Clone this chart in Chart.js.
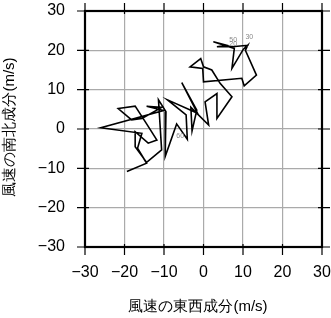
<!DOCTYPE html>
<html><head><meta charset="utf-8">
<script src="https://cdn.jsdelivr.net/npm/chart.js@4/dist/chart.umd.min.js"></script>
<style>html,body{margin:0;padding:0;background:#fff}#wrap{width:331px;height:318px}</style>
</head><body><div id="wrap"><canvas id="c" width="331" height="318"></canvas></div>
<script>
const tickValues = [-30, -20, -10, 0, 10, 20, 30];
const uComp = [-19.4,-14.4,-16.7,-15.6,-26.0,-10.1,-14.4,-10.6,-15.6,-18.2,-21.6,-17.3,-14.4,-11.8,-14.0,-17.3,-17.3,-14.4,-10.6,-11.4,-9.5,-9.7,-6.8,-4.1,-4.4,-9.1,-1.5,-5.5,-1.7,-2.9,-3.2,1.3,0.4,3.4,3.4,7.2,4.2,2.1,0.0,-0.7,-3.4,-0.2,0.0,9.7,10.3,13.4,10.6,11.2,10.1,7.2,7.8,2.5,5.9,3.4,7.2,11.4];
const vComp = [-10.8,-8.7,-4.9,-1.1,0.3,4.7,5.8,5.5,2.7,2.3,5.2,5.8,1.3,-2.8,-3.6,-0.7,-4.5,-8.5,-5.3,7.4,4.4,-7.0,1.3,-2.6,3.6,7.4,4.0,11.8,4.8,-0.5,5.5,1.0,6.9,9.0,2.7,8.2,11.6,15.0,15.8,17.9,15.8,15.4,12.0,12.9,11.0,13.7,20.0,21.3,20.3,15.4,20.5,22.2,21.3,20.9,20.9,21.3];
const heightLabels = ["30", "50", "20", "60"];
const labelX = [11.6, 7.5, 7.5, -5.9];
const labelY = [23.3, 22.6, 21.5, -1.8];
const xTitle = "風速の東西成分(m/s)";
const yTitle = "風速の南北成分(m/s)";

const pts = uComp.map((u, i) => ({x: u, y: vComp[i]}));
const minus = v => String(v).replace('-', '\u2212');
const FONT = '"Liberation Sans", Arial, sans-serif';

const framePlugin = {
  id: 'frame',
  afterDraw(chart) {
    const {ctx, chartArea: a, scales} = chart;
    ctx.save();
    ctx.strokeStyle = '#000';
    ctx.lineWidth = 1.2;
    ctx.beginPath();
    tickValues.forEach(v => {
      const px = scales.x.getPixelForValue(v);
      const py = scales.y.getPixelForValue(v);
      ctx.moveTo(px, a.bottom - 3); ctx.lineTo(px, a.bottom + 8);
      ctx.moveTo(px, a.top + 3); ctx.lineTo(px, a.top - 8);
      ctx.moveTo(a.left - 8, py); ctx.lineTo(a.left + 4, py);
      ctx.moveTo(a.right + 8, py); ctx.lineTo(a.right - 4, py);
    });
    ctx.stroke();
    ctx.lineWidth = 2.2;
    ctx.strokeRect(a.left, a.top, a.right - a.left, a.bottom - a.top);
    ctx.fillStyle = '#888';
    ctx.font = '7px ' + FONT;
    ctx.textAlign = 'center';
    ctx.textBaseline = 'middle';
    heightLabels.forEach((t, i) => {
      ctx.fillText(t, scales.x.getPixelForValue(labelX[i]), scales.y.getPixelForValue(labelY[i]));
    });
    ctx.fillStyle = '#000';
    ctx.font = '15px ' + FONT;
    ctx.fillText(xTitle, 198, 307);
    ctx.translate(10, 127);
    ctx.rotate(-Math.PI / 2);
    ctx.fillText(yTitle, 0, 0);
    ctx.restore();
  }
};

new Chart(document.getElementById('c'), {
  type: 'scatter',
  data: { datasets: [{ data: pts, showLine: true, borderColor: '#000', borderWidth: 1.6, pointRadius: 0, tension: 0, fill: false }] },
  options: {
    responsive: false, animation: false, devicePixelRatio: 1,
    layout: { padding: { top: 11, right: 9, left: 0, bottom: 0 } },
    plugins: { legend: { display: false }, tooltip: { enabled: false } },
    scales: {
      x: {
        type: 'linear', min: -30, max: 30,
        afterBuildTicks: s => { s.ticks = tickValues.map(v => ({value: v})); },
        afterFit: s => { s.height = 71; s.paddingLeft = 0; s.paddingRight = 0; },
        grid: { color: '#aaa', lineWidth: 1.2, drawTicks: false },
        border: { display: false },
        ticks: { padding: 16, color: '#000', font: { size: 16, family: FONT }, callback: v => minus(v), maxRotation: 0 }
      },
      y: {
        type: 'linear', min: -30, max: 30,
        afterBuildTicks: s => { s.ticks = tickValues.map(v => ({value: v})); },
        afterFit: s => { s.width = 85; s.paddingTop = 0; s.paddingBottom = 0; },
        grid: { color: '#aaa', lineWidth: 1.2, drawTicks: false },
        border: { display: false },
        ticks: { padding: 20, color: '#000', font: { size: 16, family: FONT }, callback: v => minus(v) }
      }
    }
  },
  plugins: [framePlugin]
});
</script></body></html>
